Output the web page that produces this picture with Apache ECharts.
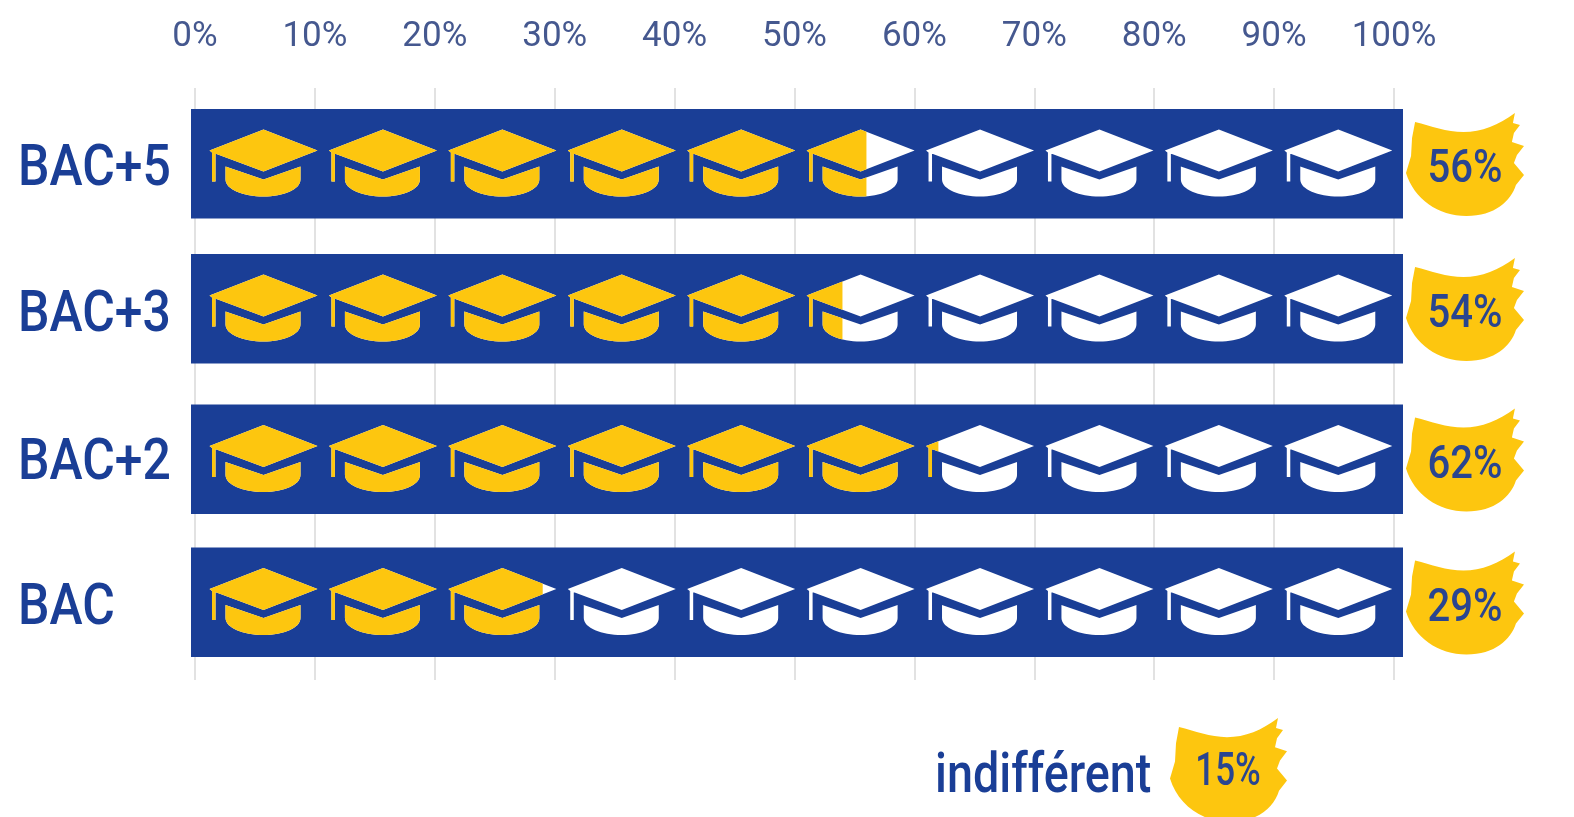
<!DOCTYPE html>
<html>
<head>
<meta charset="utf-8">
<style>html,body{margin:0;padding:0;background:#fff}#c{width:1574px;height:817px}</style>
<script src="https://cdn.jsdelivr.net/npm/echarts@6/dist/echarts.min.js"></script>
</head>
<body>
<div id="c"></div>
<script>
const categories = ['BAC+5', 'BAC+3', 'BAC+2', 'BAC'];
const shares = [56, 54, 62, 29];
const indifferentLabel = 'indifférent';
const indifferentShare = 15;
const hatCount = 10;

const NAVY = '#1a3e96', YELLOW = '#fdc60f', INK = '#2a4590';
const FONT = 'Roboto,"Liberation Sans",sans-serif';
const HAT = 'M0,21 L54,0 L108,21 L54,42 L7,24.5 L6,24.5 L6,52 L2.5,52 L2.5,23 Z M16,37 L54,50 L91,37 L91,50 C91,60 74,67 54,67 C34,67 16,60 16,50 Z';
const BLOB = 'M9,9 C25,13 40,19 57,19 C75,19 92,12 108,0 L106,10 L113,12 L107,20 L105,29 L117,33 L110,42 L107,50 L117,62 L109,72 C104,88 88,103 60,103 C32,103 8,86 0,60 L5,43 L6,25 Z';
const rowNudge = [1.5, -1.5, 1, -4];
const labelNudge = [8, 6, 6, 3];

const chart = echarts.init(document.getElementById('c'), null, {renderer: 'canvas'});

function narrowText(text, x, y, font, fill, scaleX, align) {
  return {
    type: 'text', x: x, y: y, scaleX: scaleX, originX: 0, originY: 0,
    style: {text: text, x: 0, y: 0, align: align, verticalAlign: 'middle', font: font, fill: fill}
  };
}

function renderRow(params, api) {
  const value = api.value(0);
  const row = api.value(1);
  const base = api.coord([0, row]);
  const right = api.coord([100, row]);
  const cy = base[1] + rowNudge[row];
  const clipX = api.coord([value, row])[0];
  const pitch = (right[0] - base[0]) * 0.0996;
  const children = [{
    type: 'rect',
    shape: {x: base[0] - 4, y: cy - 54.5, width: right[0] - base[0] + 13, height: 109.5},
    style: {fill: NAVY}
  }];
  for (let i = 0; i < hatCount; i++) {
    const x = base[0] + 14.5 + pitch * i;
    const rect = {x: x, y: cy - 34, width: 108, height: 67};
    children.push({type: 'path', shape: Object.assign({pathData: HAT, layout: 'cover'}, rect), style: {fill: '#fff'}});
    children.push({
      type: 'group',
      clipPath: {type: 'rect', shape: {x: base[0], y: cy - 60, width: clipX - base[0], height: 120}},
      children: [{type: 'path', shape: Object.assign({pathData: HAT, layout: 'cover'}, rect), style: {fill: YELLOW}}]
    });
  }
  children.push({
    type: 'path',
    shape: {pathData: BLOB, layout: 'cover', x: right[0] + 12, y: cy - 50.5, width: 118, height: 103},
    style: {fill: YELLOW}
  });
  children.push(narrowText(value + '%', right[0] + 71, cy + 7, '500 46px ' + FONT, INK, 0.87, 'center'));
  children.push(narrowText(categories[row], 18, base[1] + labelNudge[row], '500 58px ' + FONT, NAVY, 0.86, 'left'));
  return {type: 'group', children: children};
}

function renderIndifferent(params, api) {
  const value = api.value(0);
  return {
    type: 'group',
    children: [
      narrowText(indifferentLabel, 935, 778, '500 55px ' + FONT, NAVY, 0.85, 'left'),
      {type: 'path', shape: {pathData: BLOB, layout: 'cover', x: 1170, y: 718, width: 117, height: 104}, style: {fill: YELLOW}},
      narrowText(value + '%', 1228, 773, '500 46px ' + FONT, INK, 0.76, 'center')
    ]
  };
}

chart.setOption({
  animation: false,
  backgroundColor: '#fff',
  grid: {left: 195, right: 180, top: 88, bottom: 137},
  xAxis: {
    type: 'value', position: 'top', min: 0, max: 100, interval: 10,
    axisLine: {show: false}, axisTick: {show: false},
    splitLine: {show: true, lineStyle: {color: '#e2e2e2', width: 2}},
    axisLabel: {formatter: '{value}%', margin: 33, fontFamily: FONT, fontSize: 35, color: '#45588f'}
  },
  yAxis: {
    type: 'category', inverse: true, data: categories,
    axisLine: {show: false}, axisTick: {show: false}, splitLine: {show: false},
    axisLabel: {show: false}
  },
  series: [{
    type: 'custom', coordinateSystem: 'cartesian2d', clip: false,
    encode: {x: 0, y: 1},
    data: shares.map((v, i) => [v, i]),
    renderItem: renderRow
  }, {
    type: 'custom', coordinateSystem: 'none', clip: false,
    data: [[indifferentShare]],
    renderItem: renderIndifferent
  }]
});
</script>
</body>
</html>
